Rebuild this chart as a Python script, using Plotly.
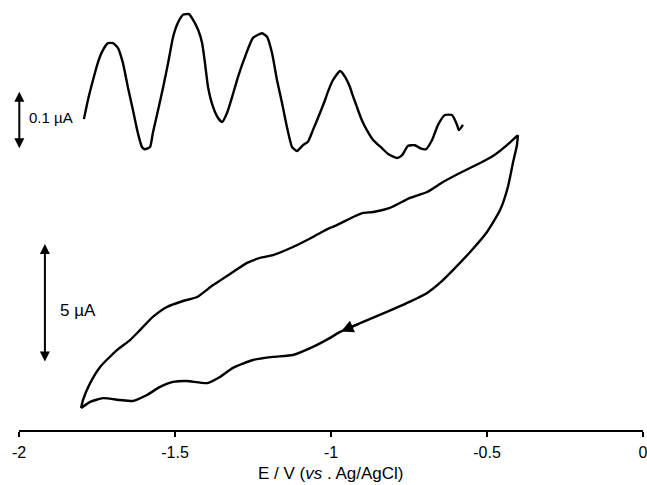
import plotly.graph_objects as go

# Cyclic voltammogram (current in uA, arbitrary offset)
cv_upper_E = [-0.401, -0.436, -0.481, -0.522, -0.587, -0.641, -0.692, -0.747, -0.811, -0.865,
              -0.897, -0.929, -0.981, -1.003, -1.035, -1.058, -1.122, -1.186, -1.228, -1.269,
              -1.314, -1.378, -1.429, -1.474, -1.526, -1.571, -1.612, -1.644, -1.686, -1.740,
              -1.772, -1.795, -1.801]
cv_upper_I = [12.39, 11.97, 11.51, 11.22, 10.80, 10.42, 10.00, 9.75, 9.33, 9.16,
              9.12, 8.95, 8.61, 8.49, 8.28, 8.11, 7.69, 7.35, 7.23, 7.02,
              6.64, 6.09, 5.59, 5.42, 5.17, 4.75, 4.20, 3.78, 3.36, 2.65,
              1.97, 1.26, 0.92]
cv_lower_E = [-1.801, -1.772, -1.731, -1.676, -1.635, -1.590, -1.548, -1.506, -1.462, -1.397,
              -1.356, -1.314, -1.250, -1.186, -1.122, -1.058, -1.003, -0.971, -0.897, -0.821,
              -0.756, -0.692, -0.651, -0.609, -0.554, -0.500, -0.458, -0.433, -0.417, -0.404,
              -0.401]
cv_lower_I = [0.92, 1.18, 1.34, 1.26, 1.22, 1.47, 1.81, 2.02, 2.06, 1.97,
              2.23, 2.61, 2.94, 3.07, 3.15, 3.49, 3.87, 4.12, 4.54, 4.96,
              5.34, 5.76, 6.18, 6.72, 7.48, 8.32, 9.24, 10.21, 11.22, 11.97,
              12.39]

# Differential pulse voltammogram (current in uA, arbitrary offset)
dpv_E = [-1.792, -1.779, -1.763, -1.747, -1.731, -1.715, -1.699, -1.683, -1.667, -1.651,
         -1.635, -1.619, -1.606, -1.596, -1.580, -1.571, -1.554, -1.538, -1.522, -1.506,
         -1.490, -1.474, -1.455, -1.442, -1.426, -1.413, -1.404, -1.394, -1.378, -1.362,
         -1.349, -1.333, -1.317, -1.298, -1.276, -1.250, -1.221, -1.205, -1.189, -1.173,
         -1.157, -1.141, -1.125, -1.109, -1.090, -1.074, -1.058, -1.035, -1.019, -1.010,
         -0.994, -0.971, -0.955, -0.939, -0.933, -0.917, -0.901, -0.885, -0.865, -0.837,
         -0.817, -0.788, -0.772, -0.753, -0.731, -0.715, -0.696, -0.676, -0.657, -0.635,
         -0.612, -0.596, -0.590, -0.577]
dpv_I = [0.536, 0.569, 0.603, 0.634, 0.655, 0.667, 0.667, 0.659, 0.633, 0.591,
         0.552, 0.512, 0.488, 0.484, 0.488, 0.512, 0.552, 0.591, 0.633, 0.678,
         0.703, 0.716, 0.717, 0.707, 0.690, 0.667, 0.633, 0.591, 0.557, 0.538,
         0.531, 0.547, 0.574, 0.609, 0.643, 0.676, 0.684, 0.678, 0.650, 0.603,
         0.564, 0.522, 0.488, 0.481, 0.491, 0.497, 0.517, 0.547, 0.569, 0.583,
         0.603, 0.619, 0.609, 0.591, 0.581, 0.557, 0.534, 0.517, 0.500, 0.486,
         0.476, 0.469, 0.474, 0.490, 0.491, 0.486, 0.484, 0.500, 0.526, 0.543,
         0.543, 0.526, 0.517, 0.526]

x_ticks = [-2, -1.5, -1, -0.5, 0]
x_ticklabels = ["-2", "-1.5", "-1", "-0.5", "0"]

FONT = "Liberation Sans, Arial, sans-serif"
line = dict(color="black", width=2.4, shape="spline", smoothing=0.5)

fig = go.Figure()
fig.add_trace(go.Scatter(x=cv_upper_E, y=cv_upper_I, mode="lines", line=line, showlegend=False))
fig.add_trace(go.Scatter(x=cv_lower_E, y=cv_lower_I, mode="lines", line=line, showlegend=False))
fig.add_trace(go.Scatter(x=dpv_E, y=dpv_I, mode="lines", line=line, yaxis="y2", showlegend=False))

annotations = [
    # 5 uA scale bar
    dict(x=-1.917, y=7.82, ax=-1.917, ay=2.82, xref="x", yref="y", axref="x", ayref="y",
         text="", showarrow=True, arrowhead=2, arrowside="end+start", arrowsize=1, arrowwidth=2,
         arrowcolor="black"),
    dict(x=-1.876, y=5.04, xref="x", yref="y", text="5 µA", showarrow=False,
         xanchor="left", yanchor="middle", font=dict(family=FONT, size=17, color="black")),
    # 0.1 uA scale bar
    dict(x=-1.999, y=0.583, ax=-1.999, ay=0.483, xref="x", yref="y2", axref="x", ayref="y2",
         text="", showarrow=True, arrowhead=2, arrowside="end+start", arrowsize=1, arrowwidth=2,
         arrowcolor="black"),
    dict(x=-1.973, y=0.538, xref="x", yref="y2", text="0.1 µA", showarrow=False,
         xanchor="left", yanchor="middle", font=dict(family=FONT, size=15, color="black")),
    # scan direction arrow
    dict(x=-0.968, y=4.14, ax=-0.905, ay=4.50, xref="x", yref="y", axref="x", ayref="y",
         text="", showarrow=True, arrowhead=2, arrowsize=1, arrowwidth=2.5, arrowcolor="black"),
    # x axis title
    dict(x=0.5, y=-0.101, xref="paper", yref="paper", showarrow=False,
         text="E / V (<i>vs</i> . Ag/AgCl)", xanchor="center", yanchor="middle",
         font=dict(family=FONT, size=17, color="black")),
]

fig.update_layout(
    width=647, height=485,
    margin=dict(l=19, r=4, t=0, b=55),
    paper_bgcolor="white", plot_bgcolor="white",
    font=dict(family=FONT, size=16, color="black"),
    xaxis=dict(range=[-2, 0], tickvals=x_ticks, ticktext=x_ticklabels,
               showline=True, linecolor="black", linewidth=2, ticks="outside",
               ticklen=5, tickwidth=2, tickcolor="black", showgrid=False, zeroline=False,
               ticklabeloverflow="allow", ticklabelstandoff=2,
               tickfont=dict(family=FONT, size=16, color="black")),
    yaxis=dict(range=[0, 430 / 23.8], visible=False, showgrid=False, zeroline=False),
    yaxis2=dict(range=[0, 430 / 580], overlaying="y", visible=False, showgrid=False,
                zeroline=False),
    annotations=annotations,
)

fig.write_html("out.html")
